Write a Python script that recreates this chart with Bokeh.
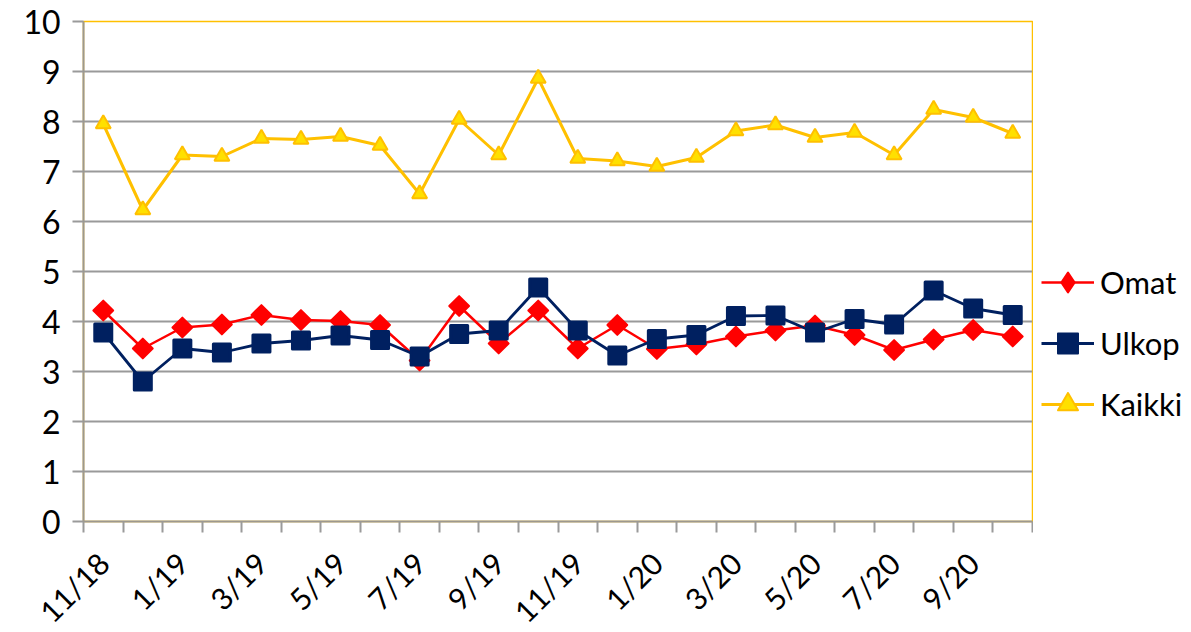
import math
from bokeh.plotting import figure
from bokeh.layouts import row
from bokeh.models import (Range1d, FixedTicker, Legend, LegendItem, ColumnDataSource)
from bokeh.embed import file_html
from bokeh.resources import INLINE

months = ["11/18", "12/18", "1/19", "2/19", "3/19", "4/19", "5/19", "6/19", "7/19",
          "8/19", "9/19", "10/19", "11/19", "12/19", "1/20", "2/20", "3/20", "4/20",
          "5/20", "6/20", "7/20", "8/20", "9/20", "10/20"]
omat = [4.22, 3.46, 3.88, 3.94, 4.13, 4.03, 4.01, 3.93, 3.22, 4.31, 3.56, 4.22,
        3.46, 3.93, 3.45, 3.54, 3.70, 3.82, 3.92, 3.73, 3.43, 3.64, 3.83, 3.70]
ulkop = [3.78, 2.80, 3.46, 3.38, 3.56, 3.62, 3.72, 3.63, 3.30, 3.75, 3.82, 4.68,
         3.82, 3.32, 3.65, 3.73, 4.11, 4.12, 3.78, 4.05, 3.94, 4.62, 4.26, 4.13]
kaikki = [7.95, 6.23, 7.33, 7.30, 7.66, 7.64, 7.70, 7.52, 6.55, 8.04, 7.33, 8.86,
          7.26, 7.21, 7.10, 7.28, 7.81, 7.93, 7.68, 7.78, 7.33, 8.24, 8.08, 7.76]
y_ticks = [0, 1, 2, 3, 4, 5, 6, 7, 8, 9, 10]
series_names = ["Omat", "Ulkop", "Kaikki"]

FONT = "Lato"
idx = list(range(len(months)))
src = ColumnDataSource(dict(x=idx, omat=omat, ulkop=ulkop, kaikki=kaikki))

p = figure(frame_width=949, frame_height=500, output_backend="svg", toolbar_location=None,
           x_range=Range1d(-0.5, len(months) - 0.5), y_range=Range1d(0, 10),
           min_border_left=83, min_border_right=1, min_border_top=21, min_border_bottom=0)
p.background_fill_color = "white"
p.border_fill_color = "white"
p.outline_line_color = "#FFC000"
p.outline_line_width = 1.5

# grid
p.xgrid.visible = False
p.ygrid.ticker = FixedTicker(ticks=y_ticks)
p.ygrid.grid_line_color = "#9a9a9a"
p.ygrid.grid_line_width = 2

# y axis
p.yaxis.ticker = FixedTicker(ticks=y_ticks)
p.yaxis.axis_line_color = "#9c988f"
p.yaxis.axis_line_width = 2
p.yaxis.major_tick_line_color = "#9a9a9a"
p.yaxis.major_tick_line_width = 2
p.yaxis.major_tick_out = 11
p.yaxis.major_tick_in = 0
p.yaxis.minor_tick_line_color = None
p.yaxis.major_label_text_font = FONT
p.yaxis.major_label_text_font_size = "32px"
p.yaxis.major_label_text_color = "black"
p.yaxis.major_label_standoff = 12

# x axis
label_idx = idx[::2]
bounds = [i - 0.5 for i in idx] + [idx[-1] + 0.5]
p.xaxis.ticker = FixedTicker(ticks=label_idx, minor_ticks=bounds)
p.xaxis.major_label_overrides = {i: months[i] for i in label_idx}
p.xaxis.axis_line_color = "#9c988f"
p.xaxis.axis_line_width = 2
p.xaxis.major_tick_out = 0
p.xaxis.major_tick_in = 0
p.xaxis.minor_tick_line_color = "#9a9a9a"
p.xaxis.minor_tick_line_width = 2
p.xaxis.minor_tick_out = 11
p.xaxis.minor_tick_in = 0
p.xaxis.major_label_orientation = math.pi / 4
p.xaxis.major_label_text_font = FONT
p.xaxis.major_label_text_font_size = "30px"
p.xaxis.major_label_text_color = "black"
p.xaxis.major_label_standoff = 25

# lines
p.line("x", "omat", source=src, line_color="#FF0000", line_width=2.5)
p.line("x", "ulkop", source=src, line_color="#002060", line_width=2.8)
p.line("x", "kaikki", source=src, line_color="#FFC000", line_width=3)
# markers
p.scatter("x", "omat", source=src, marker="square", angle=math.pi / 4, size=14,
          fill_color="#FF0000", line_color="#FF0000", line_width=2, line_join="round")
p.scatter("x", "ulkop", source=src, marker="square", size=17,
          fill_color="#002060", line_color="#002060", line_width=3, line_join="round")
p.scatter("x", "kaikki", source=src, marker="triangle", size=15,
          fill_color="#FFE000", line_color="#FFC000", line_width=2)

# legend panel (separate figure to the right of the frame; its ranges keep the
# series' own glyphs out of view so only the legend is visible there)
lg = figure(width=158, height=632, output_backend="svg", toolbar_location=None,
            x_range=Range1d(100, 101), y_range=Range1d(100, 101),
            x_axis_type=None, y_axis_type=None, min_border=0)
lg.outline_line_color = None
lg.xgrid.visible = False
lg.ygrid.visible = False
styles = [("omat", "#FF0000", "diamond", "#FF0000", "#FF0000", 2.5),
          ("ulkop", "#002060", "square", "#002060", "#002060", 2.8),
          ("kaikki", "#FFC000", "triangle", "#FFE000", "#FFC000", 3)]
items = []
for name, (col, lc, mk, fc, mlc, lw) in zip(series_names, styles):
    rl = lg.line("x", col, source=src, line_color=lc, line_width=lw)
    rs = lg.scatter("x", col, source=src, marker=mk, fill_color=fc, line_color=mlc,
                    line_width=2, line_join="round")
    items.append(LegendItem(label=name, renderers=[rl, rs]))
legend = Legend(items=items, location=(8, 80), padding=0, margin=0, spacing=11,
                glyph_width=53, glyph_height=50, label_height=40, label_standoff=6,
                label_text_font=FONT, label_text_font_size="31px", label_text_color="black",
                border_line_color=None, background_fill_alpha=0)
lg.add_layout(legend)

layout = row(p, lg, spacing=0)
open("out.html", "w").write(file_html(layout, INLINE))
